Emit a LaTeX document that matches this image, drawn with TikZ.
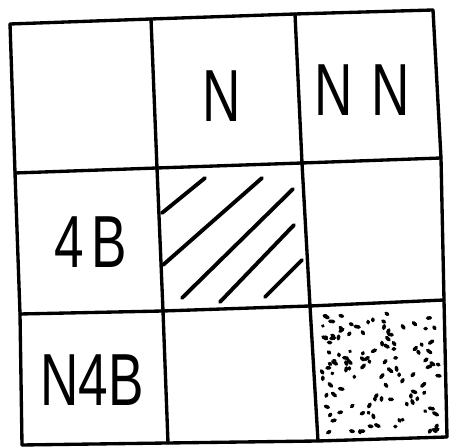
\documentclass[tikz,border=0pt]{standalone}
\usepackage{fontspec}
\setmainfont{Liberation Sans}
\usepackage{tikz}

\begin{document}
\begin{tikzpicture}[
  x=0.02cm, y=-0.02cm,
  grid/.style={line width=1.9pt, line cap=round, line join=round},
  hatch/.style={line width=2.2pt, line cap=round},
  speck/.style={line width=2pt, line cap=round},
  label/.style={font=\fontsize{42}{42}\selectfont, xscale=0.72, inner sep=0pt}
]
\useasboundingbox (0,0) rectangle (454,448);
% corners of the grid (hand drawn, slightly tilted)
\coordinate (a0) at (10,24);  \coordinate (a1) at (151,19);  \coordinate (a2) at (295,14);  \coordinate (a3) at (433,10);
\coordinate (b0) at (15,173); \coordinate (b1) at (157,168); \coordinate (b2) at (302,163); \coordinate (b3) at (441,158);
\coordinate (c0) at (20,314); \coordinate (c1) at (163,311); \coordinate (c2) at (310,306); \coordinate (c3) at (444,300);
\coordinate (d0) at (22,445); \coordinate (d1) at (168,443); \coordinate (d2) at (318,441); \coordinate (d3) at (447,437);
% rows
\draw[grid] (a0) -- (a1) -- (a2) -- (a3);
\draw[grid] (b0) -- (b1) -- (b2) -- (b3);
\draw[grid] (c0) -- (c1) -- (c2) -- (c3);
\draw[grid] (d0) -- (d1) -- (d2) -- (d3);
% columns
\draw[grid] (a0) -- (b0) -- (c0) -- (d0);
\draw[grid] (a1) -- (b1) -- (c1) -- (d1);
\draw[grid] (a2) -- (b2) -- (c2) -- (d2);
\draw[grid] (a3) -- (b3) -- (c3) -- (d3);
% labels
\node[label] (n) at (222,96) {N};
\node[label] (nn) at (362,90) {N\hspace{0.35em}N};
\node[label] (fb) at (91,242) {4\hspace{0.15em}B};
\node[label] (nfb) at (92,380) {N4B};
% hatched cell
\coordinate (h1s) at (162,213); \coordinate (h1e) at (205,178);
\coordinate (h2s) at (163,265); \coordinate (h2e) at (262,178);
\coordinate (h3s) at (182,298); \coordinate (h3e) at (293,189);
\coordinate (h4s) at (220,302); \coordinate (h4e) at (294,225);
\coordinate (h5s) at (265,297); \coordinate (h5e) at (302,260);
\foreach \i in {1,...,5}
  \draw[hatch] (h\i s) -- (h\i e);
% dotted cell
\pgfmathsetseed{42}
\foreach \k in {1,...,115} {
  \pgfmathsetmacro{\px}{322+rnd*116}
  \pgfmathsetmacro{\py}{311+rnd*122}
  \pgfmathsetmacro{\dx}{rand*4}
  \pgfmathsetmacro{\dy}{rand*3}
  \draw[speck] (\px,\py) -- ++(\dx,\dy);
}
\end{tikzpicture}
\end{document}
